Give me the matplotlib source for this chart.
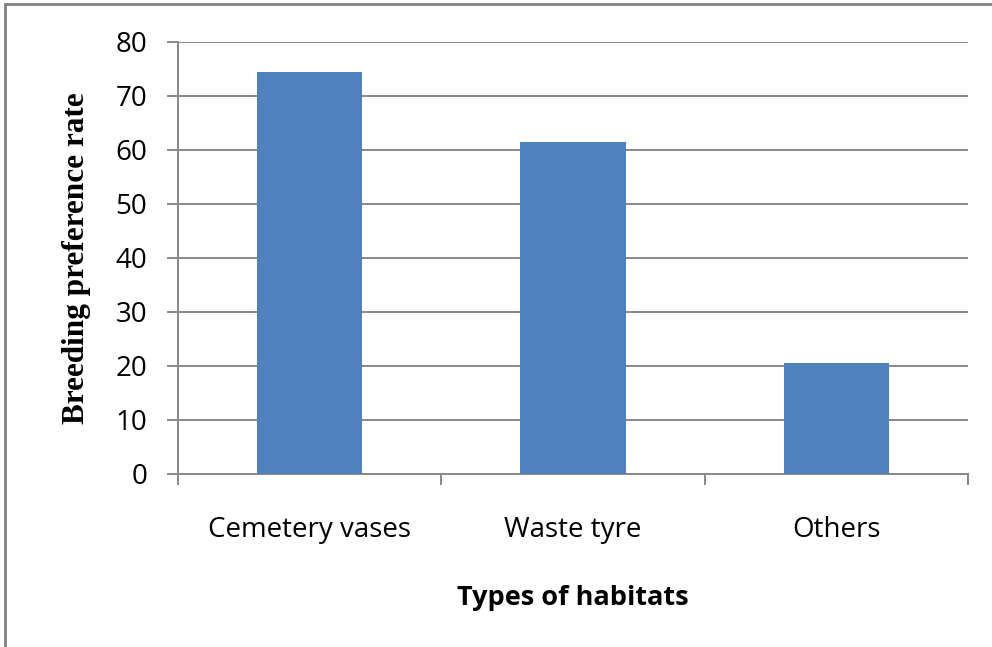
import matplotlib.pyplot as plt
from matplotlib.patches import Rectangle

# data
habitats = ["Cemetery vases", "Waste tyre", "Others"]
rates = [74.5, 61.4, 20.5]

bar_color = "#4F81BD"
grid_color = "#888888"

fig = plt.figure(figsize=(9.92, 6.47), dpi=100)
ax = fig.add_axes([0.1794, 0.2674, 0.7964, 0.6677])

x = range(len(habitats))
ax.bar(x, rates, width=0.4, color=bar_color, zorder=3)

ax.set_xlim(-0.5, len(habitats) - 0.5)
ax.set_ylim(0, 80)
ax.set_yticks(range(0, 81, 10))
ax.yaxis.grid(True, color=grid_color, linewidth=1.4, zorder=0)

# category labels centred under bars, tick marks between categories
ax.set_xticks(list(x))
ax.set_xticklabels(habitats, fontsize=20, family="Open Sans")
ax.tick_params(axis="x", length=0, pad=30)
ax.set_xticks([i - 0.5 for i in range(len(habitats) + 1)], minor=True)
ax.tick_params(axis="x", which="minor", length=8, width=1.4, color=grid_color)
ax.tick_params(axis="y", length=8, width=1.4, color=grid_color, pad=14)
for lab in ax.get_yticklabels():
    lab.set_fontsize(20)
    lab.set_family("Open Sans")

for s in ["top", "right"]:
    ax.spines[s].set_visible(False)
for s in ["left", "bottom"]:
    ax.spines[s].set_color(grid_color)
    ax.spines[s].set_linewidth(1.4)

ax.set_ylabel("Breeding preference rate", fontsize=22.5, fontweight="bold",
              family="Liberation Serif", labelpad=18)
ax.set_xlabel("Types of habitats", fontsize=19.5, fontweight="bold",
              family="Open Sans", labelpad=30)

# outer frame of the chart area
fig.patches.append(Rectangle((5 / 992, -0.01), 1.0, 1 - 4 / 647 + 0.01,
                             transform=fig.transFigure, fill=False,
                             edgecolor="#808080", linewidth=2))

fig.savefig("out.png", dpi=100)
